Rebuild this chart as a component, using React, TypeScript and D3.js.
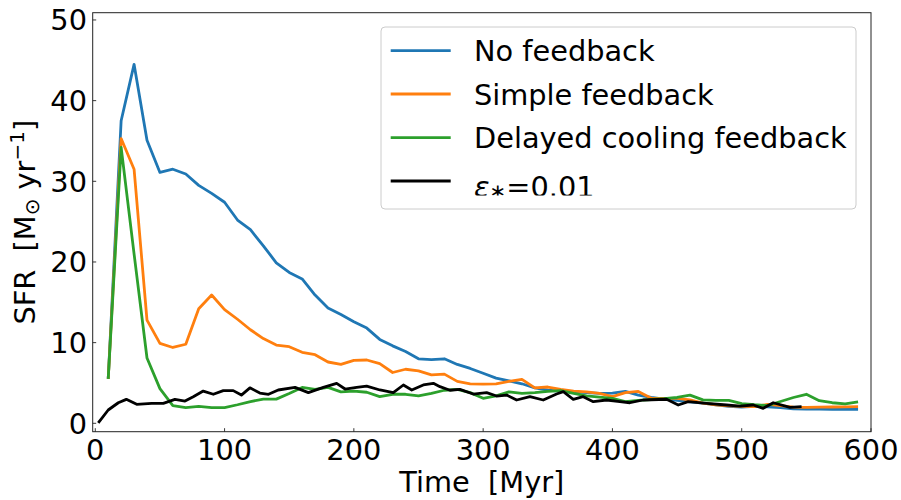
import React from "react";
import * as d3 from "d3";

const W = 901;
const H = 500;

// Time grid (Myr) for the three feedback runs
const runTime: number[] = d3.range(10, 600, 10);

const noFeedback: number[] = [
  5.5, 37.5, 44.5, 35.1, 31.1, 31.5, 30.9, 29.5, 28.5, 27.4,
  25.2, 24.0, 22.0, 19.9, 18.7, 17.9, 15.9, 14.3, 13.5, 12.6,
  11.8, 10.4, 9.6, 8.9, 8.0, 7.9, 8.0, 7.3, 6.8, 6.2,
  5.6, 5.25, 4.9, 4.4, 4.1, 4.0, 3.9, 3.8, 3.7, 3.75,
  3.95, 3.5, 3.2, 3.0, 2.85, 2.65, 2.5, 2.3, 2.1, 2.0,
  2.1, 2.05, 1.95, 1.8, 1.75, 1.75, 1.73, 1.73, 1.72,
];

const simpleFeedback: number[] = [
  5.5, 35.3, 31.5, 12.8, 9.9, 9.4, 9.8, 14.2, 15.9, 14.1,
  12.9, 11.6, 10.5, 9.7, 9.5, 8.8, 8.5, 7.6, 7.3, 7.8,
  7.85, 7.4, 6.3, 6.7, 6.5, 6.0, 6.1, 5.2, 4.9, 4.85,
  4.9, 5.2, 5.45, 4.4, 4.5, 4.2, 4.0, 3.9, 3.7, 3.3,
  3.8, 3.95, 3.1, 3.1, 3.1, 2.9, 2.5, 2.3, 2.15, 2.1,
  2.06, 2.35, 2.2, 2.0, 1.98, 2.0, 2.02, 2.04, 2.06,
];

const delayedCooling: number[] = [
  5.5, 34.2, 21.0, 8.1, 4.3, 2.2, 1.95, 2.1, 1.95, 1.95,
  2.3, 2.7, 3.0, 3.0, 3.7, 4.45, 4.2, 4.45, 3.9, 4.0,
  3.85, 3.3, 3.6, 3.6, 3.4, 3.7, 4.1, 4.2, 3.8, 3.1,
  3.4, 3.9, 3.7, 3.8, 3.95, 4.05, 3.7, 3.4, 3.25, 3.1,
  2.7, 2.85, 2.95, 3.05, 3.2, 3.5, 2.9, 2.85, 2.85, 2.45,
  2.3, 2.2, 2.7, 3.2, 3.6, 2.8, 2.55, 2.4, 2.65,
];

// epsilon_* = 0.01 run (own time sampling)
const epsTime: number[] = [
  2.3, 10, 17.8, 24, 32, 43.6, 52.6, 61.6, 69.4, 75.8,
  83.5, 91.3, 99, 106.7, 113, 119.6, 127.3, 134, 141.5, 154.5,
  164.8, 176.4, 186.7, 193.2, 202.2, 209.9, 220.2, 230.5, 238.3, 244.8,
  253.7, 261.5, 266.6, 274.3, 282, 292.3, 302.7, 310.4, 318.2, 325.9,
  336.2, 346.5, 356.8, 362, 369.7, 377.4, 385.2, 395.5, 405.8, 413.5,
  423.8, 441.9, 450.9, 458.6, 472.8, 488.3, 498.6, 508.9, 516.6, 524.4,
  537.3, 546.3,
];
const epsSfr: number[] = [
  0.05, 1.65, 2.55, 2.97, 2.35, 2.48, 2.48, 2.97, 2.76, 3.3,
  4.0, 3.6, 4.05, 4.05, 3.5, 4.4, 3.75, 3.6, 4.13, 4.46,
  3.8, 4.46, 4.96, 4.25, 4.46, 4.62, 4.13, 3.8, 4.75, 4.13,
  4.75, 4.96, 4.54, 4.1, 4.2, 3.63, 3.8, 3.38, 3.5, 2.89,
  3.3, 2.89, 3.63, 3.92, 2.98, 3.3, 2.68, 2.89, 2.68, 2.55,
  2.89, 2.98, 2.27, 2.68, 2.48, 2.27, 2.14, 2.27, 1.86, 2.55,
  1.98, 2.06,
];

const xTicks = [0, 100, 200, 300, 400, 500, 600];
const yTicks = [0, 10, 20, 30, 40, 50];

const seriesNames = ["No feedback", "Simple feedback", "Delayed cooling feedback"];
const colors = ["#1f77b4", "#ff7f0e", "#2ca02c", "#000000"];

const M = { left: 92.7, right: 871, top: 12.7, bottom: 431.7 };
const FONT = "DejaVu Sans, sans-serif";
const FS = 28.8;

export default function App() {
  const x = d3.scaleLinear().domain([-2, 600]).range([M.left, M.right]);
  const y = d3.scaleLinear().domain([-1.04, 50.9]).range([M.bottom, M.top]);

  const line = d3
    .line<[number, number]>()
    .x((d) => x(d[0]))
    .y((d) => y(d[1]));

  const runs = [noFeedback, simpleFeedback, delayedCooling].map((vals) =>
    runTime.map((t, i) => [t, vals[i]] as [number, number])
  );
  const eps = epsTime.map((t, i) => [t, epsSfr[i]] as [number, number]);

  const legX = 381;
  const legY = 27;
  const legRows = [50.7, 94, 137.7, 181];

  return (
    <svg
      width={W}
      height={H}
      style={{ position: "absolute", left: 0, top: 0, background: "#fff" }}
      fontFamily={FONT}
    >
      <defs>
        <clipPath id="plotClip">
          <rect x={M.left} y={M.top} width={M.right - M.left} height={M.bottom - M.top} />
        </clipPath>
        <clipPath id="epsClip">
          <rect x={legX} y={150} width={480} height={45.5} />
        </clipPath>
      </defs>
      <rect x={0} y={0} width={W} height={H} fill="#fff" />

      <g clipPath="url(#plotClip)" fill="none" strokeLinejoin="round" strokeLinecap="butt">
        {runs.map((d, i) => (
          <path key={i} d={line(d) || ""} stroke={colors[i]} strokeWidth={2.8} />
        ))}
        <path d={line(eps) || ""} stroke={colors[3]} strokeWidth={2.8} />
      </g>

      {/* frame */}
      <rect
        x={M.left}
        y={M.top}
        width={M.right - M.left}
        height={M.bottom - M.top}
        fill="none"
        stroke="#222"
        strokeWidth={1}
      />

      {/* x ticks */}
      {xTicks.map((t) => (
        <g key={"x" + t}>
          <line x1={x(t)} x2={x(t)} y1={M.bottom} y2={M.bottom - 3.5} stroke="#222" strokeWidth={0.9} />
          <text x={x(t)} y={460} fontSize={FS} textAnchor="middle" fill="#000">
            {t}
          </text>
        </g>
      ))}
      {/* y ticks */}
      {yTicks.map((t) => (
        <g key={"y" + t}>
          <line x1={M.left} x2={M.left + 3.5} y1={y(t)} y2={y(t)} stroke="#222" strokeWidth={0.9} />
          <text x={87} y={y(t) + 10.5} fontSize={FS} textAnchor="end" fill="#000">
            {t}
          </text>
        </g>
      ))}

      {/* axis labels */}
      <text
        x={(M.left + M.right) / 2}
        y={492}
        fontSize={FS}
        textAnchor="middle"
        style={{ whiteSpace: "pre" }}
      >
        {"Time  [Myr]"}
      </text>
      <text
        transform={`translate(35, ${(M.top + M.bottom) / 2}) rotate(-90)`}
        fontSize={FS}
        textAnchor="middle"
        style={{ whiteSpace: "pre" }}
      >
        <tspan>{"SFR  [M"}</tspan>
        <tspan fontSize={20} dy={4}>{"⊙"}</tspan>
        <tspan dy={-4}>{" yr"}</tspan>
        <tspan fontSize={20} dy={-11}>{"−1"}</tspan>
        <tspan dy={11}>{"]"}</tspan>
      </text>

      {/* legend */}
      <rect
        x={legX}
        y={legY}
        width={475}
        height={182}
        rx={4}
        fill="#fff"
        fillOpacity={0.8}
        stroke="#cccccc"
        strokeWidth={1}
      />
      {seriesNames.map((name, i) => (
        <g key={name}>
          <line x1={390.7} x2={450.7} y1={legRows[i]} y2={legRows[i]} stroke={colors[i]} strokeWidth={2.8} />
          <text x={474} y={legRows[i] + 10.5} fontSize={FS} fill="#000">
            {name}
          </text>
        </g>
      ))}
      <line x1={390.7} x2={450.7} y1={legRows[3]} y2={legRows[3]} stroke={colors[3]} strokeWidth={2.8} />
      <g clipPath="url(#epsClip)">
        <text x={474} y={197} fontSize={FS} fill="#000">
          <tspan fontStyle="italic">{"ε"}</tspan>
          <tspan fontSize={20} dy={1}>{"∗"}</tspan>
          <tspan dy={-1}>{"=0.01"}</tspan>
        </text>
      </g>
    </svg>
  );
}
